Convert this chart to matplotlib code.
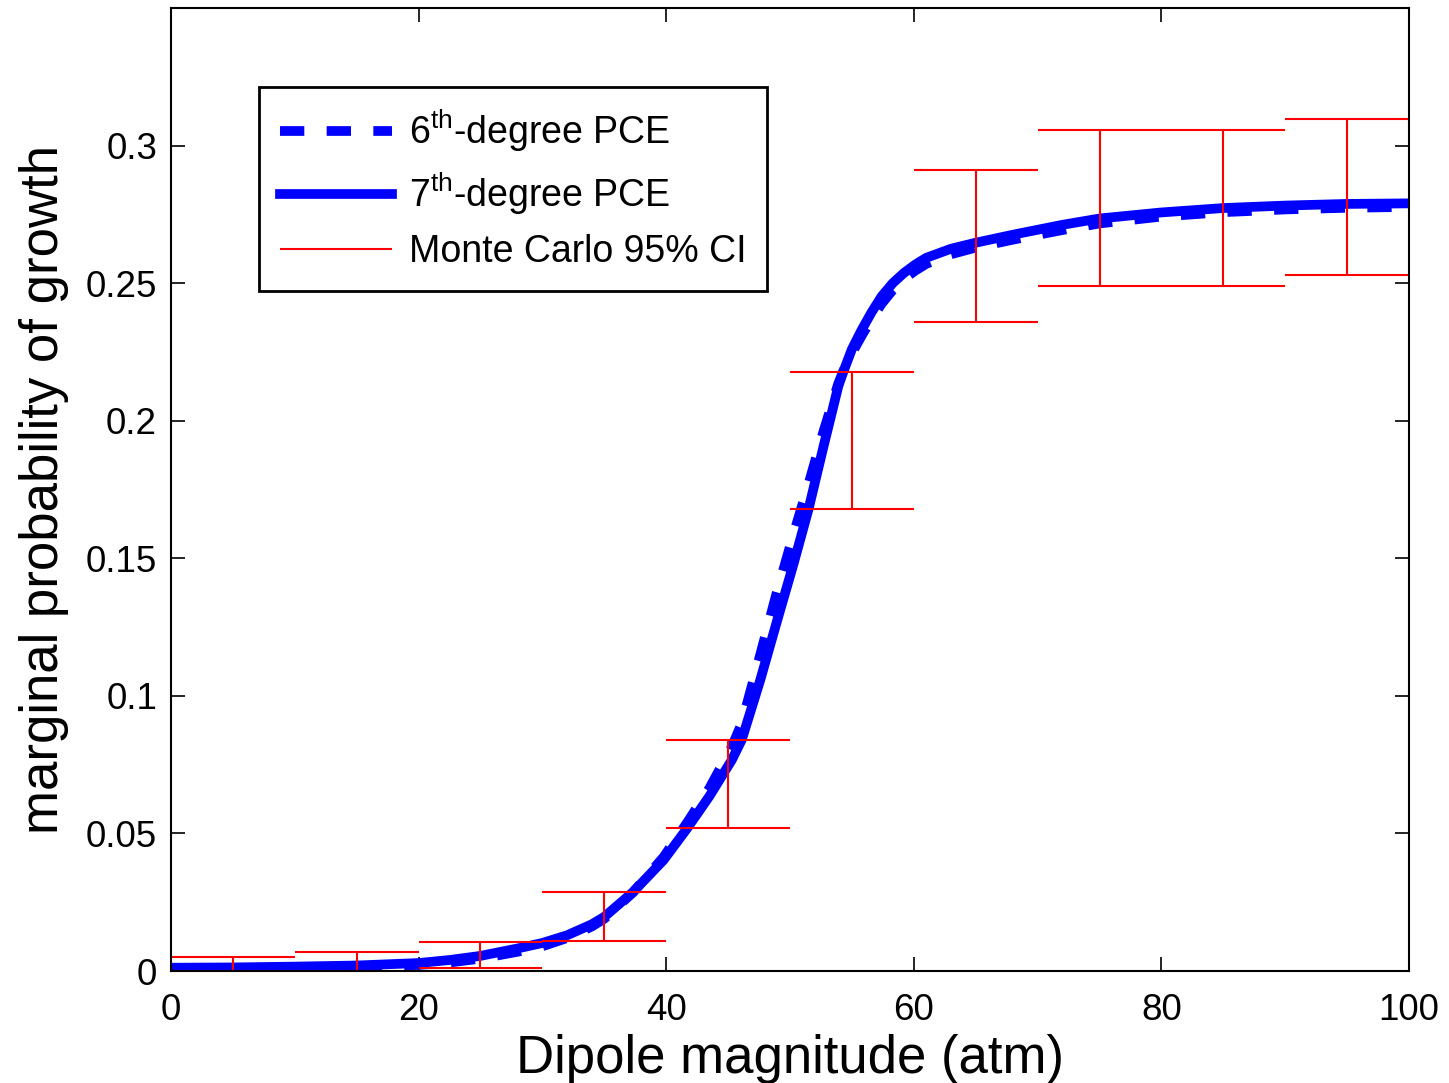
import numpy as np
import matplotlib
matplotlib.use("Agg")
import matplotlib.pyplot as plt

plt.rcParams['font.family'] = ['Liberation Sans', 'DejaVu Sans']
plt.rcParams['mathtext.fontset'] = 'custom'
plt.rcParams['mathtext.rm'] = 'Liberation Sans'
plt.rcParams['mathtext.it'] = 'Liberation Sans'

# --- data ---
dipole = [0, 5, 10, 15, 20, 22.5, 25, 28, 30, 32, 34, 35, 37.3, 39.8, 41.7,
          43.5, 45.3, 46.1, 47.6, 48.9, 50.3, 51.5, 52.7, 53.9, 54.3, 55.0,
          55.8, 56.6, 57.4, 58.3, 59.2, 60.1, 61.0, 63.0, 64.9, 68.0, 72,
          75, 80, 85, 90, 95, 100]
pce7 = [0.0012, 0.0013, 0.0016, 0.0020, 0.0029, 0.0040, 0.0055, 0.0082,
        0.0102, 0.0130, 0.0170, 0.0197, 0.0286, 0.0404, 0.0519, 0.0636,
        0.0767, 0.0840, 0.1058, 0.1264, 0.1482, 0.1679, 0.1905, 0.2125,
        0.2177, 0.2260, 0.2331, 0.2395, 0.2452, 0.2500, 0.2537, 0.2567,
        0.2592, 0.2625, 0.2646, 0.2676, 0.2712, 0.2735, 0.2757, 0.2773,
        0.2782, 0.2788, 0.2790]
pce6 = [0.0008, 0.0009, 0.0012, 0.0016, 0.0022, 0.0031, 0.0045, 0.0070,
        0.0090, 0.0120, 0.0162, 0.0190, 0.0285, 0.0415, 0.0540, 0.0665,
        0.0815, 0.0900, 0.1150, 0.1370, 0.1590, 0.1770, 0.1960, 0.2135,
        0.2180, 0.2245, 0.2310, 0.2370, 0.2425, 0.2475, 0.2515, 0.2545,
        0.2570, 0.2605, 0.2628, 0.2658, 0.2693, 0.2717, 0.2742, 0.2758,
        0.2768, 0.2774, 0.2777]

mc_centers = [5, 15, 25, 35, 45, 55, 65, 75, 85, 95]
mc_lower = [0.0, 0.0001, 0.0011, 0.0109, 0.052, 0.168, 0.236, 0.249, 0.249, 0.253]
mc_upper = [0.0052, 0.0070, 0.0105, 0.0287, 0.084, 0.2178, 0.2913, 0.3055, 0.3055, 0.3098]
bin_half = 5

fig = plt.figure(figsize=(14.49, 10.83), dpi=100)
ax = fig.add_axes([0.118, 0.1034, 0.8544, 0.8892])

ax.plot(dipole, pce6, color='#0000ff', linestyle='--', linewidth=7,
        dashes=(2.5, 2.3), label=r'6$^{\mathrm{th}}$-degree PCE')
ax.plot(dipole, pce7, color='#0000ff', linestyle='-', linewidth=7,
        label=r'7$^{\mathrm{th}}$-degree PCE')

c = np.array(mc_centers)
ax.vlines(c, mc_lower, mc_upper, color='red', linewidth=1.5,
          label='Monte Carlo 95% CI')
ax.hlines(mc_lower, c - bin_half, c + bin_half, color='red', linewidth=1.5)
ax.hlines(mc_upper, c - bin_half, c + bin_half, color='red', linewidth=1.5)

ax.set_xlim(0, 100)
ax.set_ylim(0, 0.35)
ax.set_xticks([0, 20, 40, 60, 80, 100])
ax.set_yticks([0, 0.05, 0.1, 0.15, 0.2, 0.25, 0.3])
ax.set_yticklabels(['0', '0.05', '0.1', '0.15', '0.2', '0.25', '0.3'])
ax.tick_params(direction='in', length=10, width=1.2, top=True, right=True,
               labelsize=26.5)
ax.tick_params(axis='x', pad=16)
ax.tick_params(axis='y', pad=10)
for s in ax.spines.values():
    s.set_linewidth(1.5)

ax.set_xlabel('Dipole magnitude (atm)', fontsize=38, labelpad=4)
ax.set_ylabel('marginal probability of growth', fontsize=38, labelpad=12)

leg = ax.legend(loc='upper left', bbox_to_anchor=(0.071, 0.918),
                borderaxespad=0, fontsize=27, fancybox=False, framealpha=1,
                edgecolor='black', handlelength=3.0, handletextpad=0.45,
                borderpad=0.55, labelspacing=0.45)
leg.get_frame().set_linewidth(2)

fig.savefig('out.png', dpi=100)
